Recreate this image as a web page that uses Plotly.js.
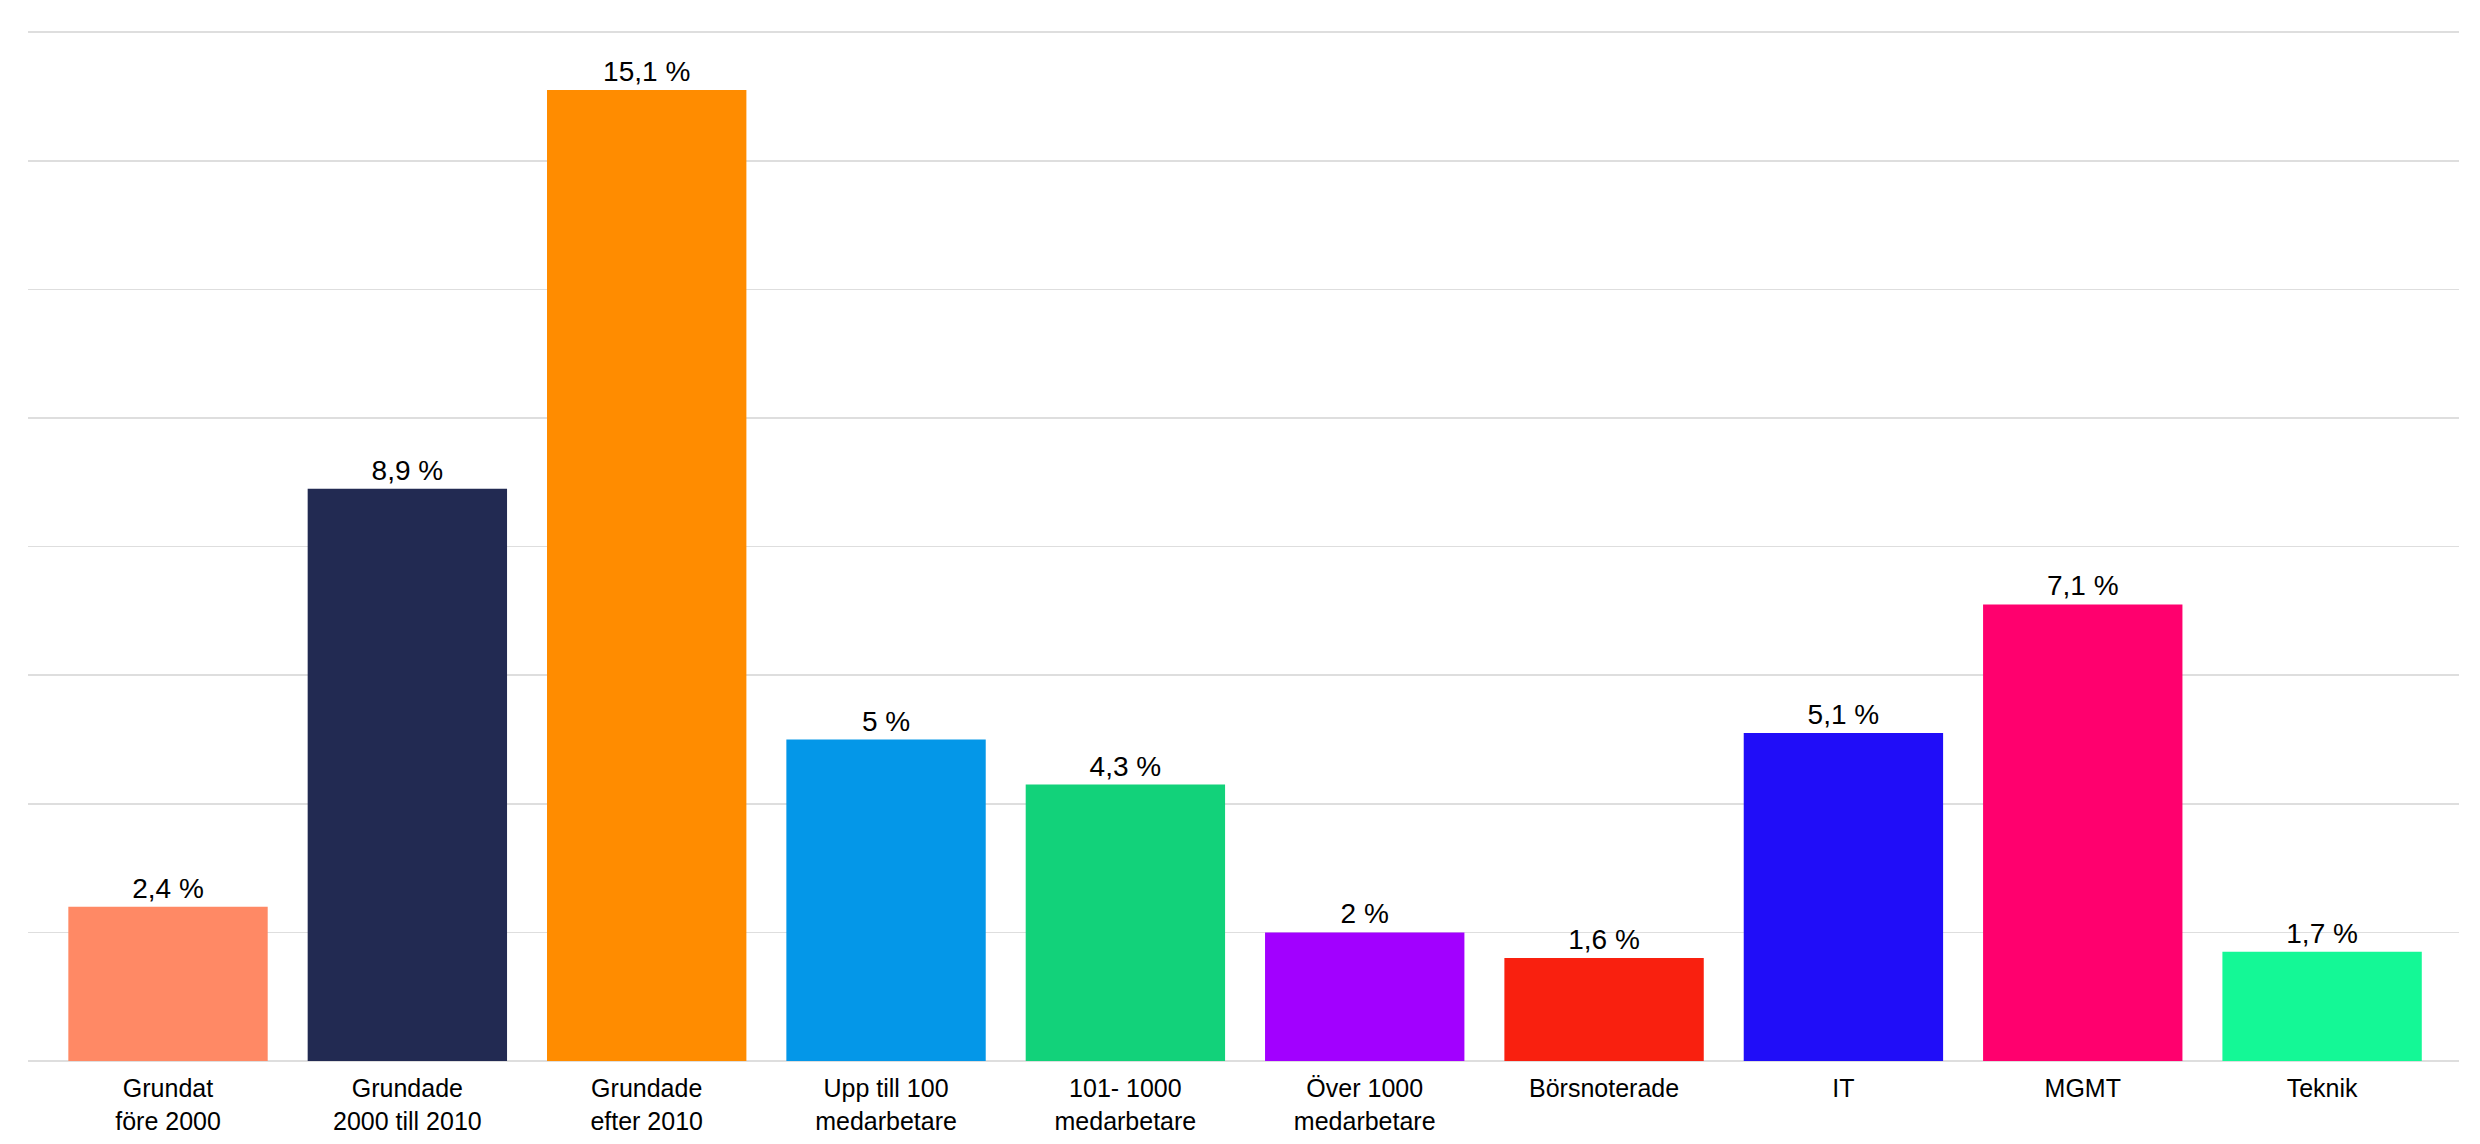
<!DOCTYPE html>
<html>
<head>
<meta charset="utf-8">
<script src="https://cdn.plot.ly/plotly-3.0.1.min.js"></script>
<style>
  html, body { margin: 0; padding: 0; background: #fff; }
  #chart { width: 2480px; height: 1144px; }
</style>
</head>
<body>
<div id="chart"></div>
<script>
// categories as shown under the bars
const categories = [
    'Grundat<br>före 2000',
    'Grundade<br>2000 till 2010',
    'Grundade<br>efter 2010',
    'Upp till 100<br>medarbetare',
    '101- 1000<br>medarbetare',
    'Över 1000<br>medarbetare',
    'Börsnoterade',
    'IT',
    'MGMT',
    'Teknik'
];
const values = [2.4, 8.9, 15.1, 5, 4.3, 2, 1.6, 5.1, 7.1, 1.7];
const barColors = [
    '#FF8965', '#222A52', '#FF8C00', '#0497E8', '#12D27A',
    '#A200FF', '#F9200F', '#200DF8', '#FF006E', '#14F896'
];

// swedish style labels: decimal comma
const labels = values.map(v => String(v).replace('.', ',') + ' %');

const data = [{
    type: 'bar',
    x: categories,
    y: values,
    text: labels,
    textposition: 'outside',
    cliponaxis: false,
    textfont: {family: 'Liberation Sans, Arial, sans-serif', size: 28, color: '#000'},
    marker: {color: barColors, line: {width: 0}},
    hoverinfo: 'none'
}];

const layout = {
    width: 2480,
    height: 1144,
    margin: {l: 28, r: 21, t: 29, b: 83},
    paper_bgcolor: '#fff',
    plot_bgcolor: '#fff',
    bargap: 0.167,
    showlegend: false,
    font: {family: 'Liberation Sans, Arial, sans-serif', color: '#000'},
    xaxis: {
        type: 'category',
        range: [-0.585, 9.572],
        showgrid: false,
        showline: false,
        ticks: '',
        ticklabelstandoff: 10,
        tickfont: {size: 25, color: '#000'}
    },
    yaxis: {
        range: [0, 16.05],
        dtick: 2,
        showticklabels: false,
        showgrid: true,
        gridcolor: '#dedede',
        gridwidth: 1.5,
        zeroline: true,
        zerolinecolor: '#dedede',
        zerolinewidth: 2,
        showline: false,
        ticks: ''
    }
};

Plotly.newPlot('chart', data, layout, {staticPlot: true, displayModeBar: false});
</script>
</body>
</html>
